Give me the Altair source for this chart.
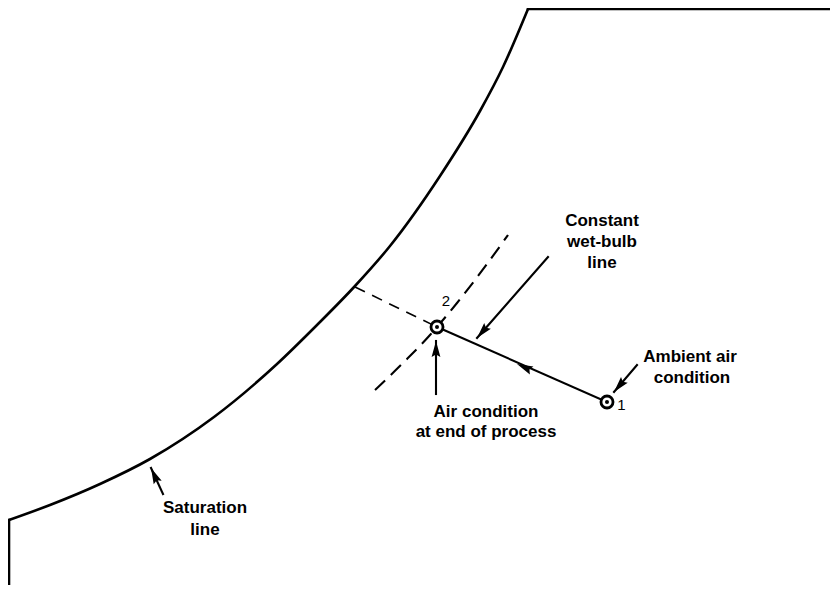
import math
import altair as alt
import pandas as pd

# Diagram units: x grows to the right, y grows downward (psychrometric sketch, no axes)
sat_curve_x = [9, 50, 100, 150, 214, 277, 317, 355, 390, 440, 480, 503, 528]
sat_curve_y = [520, 505, 484, 459, 417, 364, 325, 286, 246, 176, 111, 67, 9]
sat_left_x = [9, 9]
sat_left_y = [600, 520]
sat_top_x = [528, 845]
sat_top_y = [9, 9]

# constant wet-bulb line through state 2 (dashed)
wb_x = [375, 405, 430, 437, 457, 487, 508]
wb_y = [390, 361, 335, 327, 303, 264, 235]

# dashed line from the saturation line to state 2
perp_x = [355, 437]
perp_y = [287, 327]

# process states
state_x = [607, 437]
state_y = [402, 327]
state_lab = ["1", "2"]
state_lab_x = [621.5, 446]
state_lab_y = [410, 306]

# pointer arrows (tail -> tip)
ptr_tail_x = [548, 637, 436, 163]
ptr_tail_y = [257, 365, 394, 494]
ptr_tip_x = [477, 614, 436, 151]
ptr_tip_y = [338, 392, 341, 468]

# arrowhead on the process line (tip, pointing from 1 toward 2)
proc_tip_x = [517]
proc_tip_y = [364]

# annotation text
lab_text = ["Constant", "wet-bulb", "line",
            "Ambient air", "condition",
            "Air condition", "at end of process",
            "Saturation", "line"]
lab_x = [602, 602, 602, 690, 692, 486, 486, 205, 205]
lab_y = [226, 247, 268, 362, 383, 417, 437, 513, 535]

HEAD_LEN = 16
HEAD_PATH = "M0,-1L0.55,1L0,0.7L-0.55,1Z"

X = lambda: alt.X("x:Q", scale=alt.Scale(domain=[8, 830], nice=False, zero=False), axis=None)
Y = lambda: alt.Y("y:Q", scale=alt.Scale(domain=[8, 585], reverse=True, nice=False, zero=False), axis=None)

# straight solid segments
seg_rows = []
def add_seg(name, xs, ys):
    for i, (a, b) in enumerate(zip(xs, ys)):
        seg_rows.append({"seg": name, "ord": i, "x": a, "y": b})

add_seg("sat_left", sat_left_x, sat_left_y)
add_seg("sat_top", sat_top_x, sat_top_y)
add_seg("process", state_x, state_y)
for k in range(len(ptr_tail_x)):
    add_seg(f"ptr{k}", [ptr_tail_x[k], ptr_tip_x[k]], [ptr_tail_y[k], ptr_tip_y[k]])
seg_df = pd.DataFrame(seg_rows)

# arrowheads
head_rows = []
def add_head(tx, ty, dx, dy):
    n = math.hypot(dx, dy)
    ux, uy = dx / n, dy / n
    ang = math.degrees(math.atan2(ux, -uy)) % 360
    head_rows.append({"x": tx - ux * HEAD_LEN / 2, "y": ty - uy * HEAD_LEN / 2, "angle": ang})

for k in range(len(ptr_tail_x)):
    add_head(ptr_tip_x[k], ptr_tip_y[k], ptr_tip_x[k] - ptr_tail_x[k], ptr_tip_y[k] - ptr_tail_y[k])
add_head(proc_tip_x[0], proc_tip_y[0], state_x[1] - state_x[0], state_y[1] - state_y[0])
head_df = pd.DataFrame(head_rows)

sat_df = pd.DataFrame({"x": sat_curve_x, "y": sat_curve_y})
wb_df = pd.DataFrame({"x": wb_x, "y": wb_y})
perp_df = pd.DataFrame({"x": perp_x, "y": perp_y})
state_df = pd.DataFrame({"x": state_x, "y": state_y})
state_lab_df = pd.DataFrame({"x": state_lab_x, "y": state_lab_y, "t": state_lab})
lab_df = pd.DataFrame({"x": lab_x, "y": lab_y, "t": lab_text})

sat = alt.Chart(sat_df).mark_line(interpolate="monotone", color="black", strokeWidth=2.6).encode(x=X(), y=Y())
segs = alt.Chart(seg_df).mark_line(color="black", strokeCap="square").encode(
    x=X(), y=Y(), detail="seg:N", order="ord:Q",
    strokeWidth=alt.condition(
        (alt.datum.seg == "sat_left") | (alt.datum.seg == "sat_top"),
        alt.value(2.6), alt.value(2.1)))
wb = alt.Chart(wb_df).mark_line(interpolate="monotone", color="black", strokeWidth=2.1,
                                strokeDash=[14, 8]).encode(x=X(), y=Y())
perp = alt.Chart(perp_df).mark_line(color="black", strokeWidth=1.6, strokeDash=[11, 8]).encode(x=X(), y=Y())
heads = alt.Chart(head_df).mark_point(shape=HEAD_PATH, filled=True, color="black", opacity=1,
                                      size=HEAD_LEN ** 2, strokeWidth=0).encode(
    x=X(), y=Y(), angle=alt.Angle("angle:Q", scale=None))
rings = alt.Chart(state_df).mark_circle(fill="white", stroke="black", strokeWidth=2.8,
                                        size=145, opacity=1).encode(x=X(), y=Y())
dots = alt.Chart(state_df).mark_circle(color="black", size=16, opacity=1).encode(x=X(), y=Y())
nums = alt.Chart(state_lab_df).mark_text(font="Liberation Sans", fontSize=15, align="center",
                                         baseline="alphabetic", color="black").encode(
    x=X(), y=Y(), text="t:N")
labels = alt.Chart(lab_df).mark_text(font="Liberation Sans", fontWeight="bold", fontSize=17,
                                     align="center", baseline="alphabetic", color="black").encode(
    x=X(), y=Y(), text="t:N")

chart = alt.layer(sat, segs, wb, perp, heads, rings, dots, nums, labels).properties(
    width=822, height=577, padding=0, autosize=alt.AutoSizeParams(type="none"),
    background="white"
).configure_view(stroke=None)

chart.save("out.html", embed_options={"renderer": "svg", "actions": False})
